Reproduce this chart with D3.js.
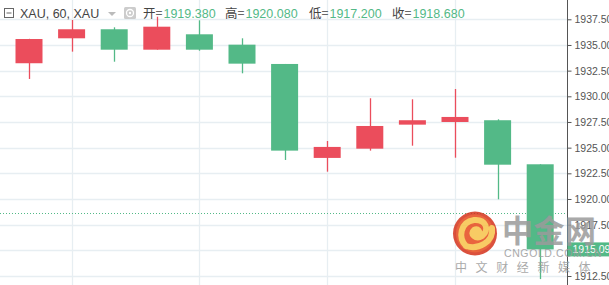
<!DOCTYPE html>
<html>
<head>
<meta charset="utf-8">
<script src="https://cdn.jsdelivr.net/npm/d3@7"></script>
<style>
  html, body { margin: 0; padding: 0; background: #fff; }
  svg { display: block; font-family: Arial, "Liberation Sans", sans-serif; }
  .tick text { fill: #555; font-size: 10.5px; }
</style>
</head>
<body>
<div id="chart"></div>
<script>
// ======= DATA =======
const opens  = [1933.22, 1935.65, 1936.53, 1934.54, 1936.04, 1935.03, 1933.15, 1924.00, 1924.90, 1927.24, 1927.50, 1927.67, 1923.38];
const highs  = [1935.60, 1937.43, 1936.72, 1937.75, 1937.40, 1935.65, 1933.15, 1925.65, 1929.81, 1929.71, 1930.71, 1927.76, 1923.38];
const lows   = [1931.69, 1934.35, 1933.37, 1934.54, 1934.44, 1932.24, 1923.80, 1922.66, 1924.71, 1925.19, 1924.02, 1919.97, 1912.20];
const closes = [1935.58, 1936.53, 1934.54, 1936.78, 1934.54, 1933.18, 1924.71, 1925.07, 1927.11, 1927.67, 1927.99, 1923.34, 1915.09];
const yTicks = [1912.5, 1915, 1917.5, 1920, 1922.5, 1925, 1927.5, 1930, 1932.5, 1935, 1937.5];
const gridCandles = [1, 4, 7, 10];
const lastPrice = 1915.09;
const refLine = 1918.68;
const header = [
  { k: "开=", v: "1919.380" },
  { k: "高=", v: "1920.080" },
  { k: "低=", v: "1917.200" },
  { k: "收=", v: "1918.680" }
];
const wmBig = ["中", "金", "网"];
const wmSmall = ["中", "文", "财", "经", "新", "媒", "体"];

// ======= SETUP =======
const width = 609, height = 285;
const axisX = 567.5;
const upColor = "#eb4d5c", downColor = "#53b987";

const svg = d3.select("#chart").append("svg")
  .attr("width", width).attr("height", height);

const x = d3.scaleLinear().domain([0, opens.length - 1]).range([29, 540.2]);
const y = d3.scaleLinear().domain([1912.5, 1937.5]).range([276, 19.3]);
const bodyW = 27;

// grid
svg.append("g").selectAll("line.h")
  .data(yTicks).join("line")
  .attr("x1", 0).attr("x2", axisX)
  .attr("y1", d => Math.round(y(d)) + 0.5).attr("y2", d => Math.round(y(d)) + 0.5)
  .attr("stroke", "#e7eef2").attr("stroke-width", 1.3);

svg.append("g").selectAll("line.v")
  .data(gridCandles).join("line")
  .attr("x1", d => Math.round(x(d)) + 0.5).attr("x2", d => Math.round(x(d)) + 0.5)
  .attr("y1", 0).attr("y2", height)
  .attr("stroke", "#e7eef2").attr("stroke-width", 1.3);

// candles
const idx = d3.range(opens.length);
const candles = svg.append("g").selectAll("g").data(idx).join("g");
candles.append("line")
  .attr("x1", i => Math.round(x(i)) + 0.5).attr("x2", i => Math.round(x(i)) + 0.5)
  .attr("y1", i => y(highs[i])).attr("y2", i => y(lows[i]))
  .attr("stroke", i => closes[i] >= opens[i] ? upColor : downColor)
  .attr("stroke-width", 1.3);
candles.append("rect")
  .attr("x", i => x(i) - bodyW / 2)
  .attr("width", bodyW)
  .attr("y", i => y(Math.max(opens[i], closes[i])))
  .attr("height", i => Math.max(2, Math.abs(y(opens[i]) - y(closes[i]))))
  .attr("fill", i => closes[i] >= opens[i] ? upColor : downColor);

// reference dotted line
svg.append("line")
  .attr("x1", 0).attr("x2", axisX)
  .attr("y1", Math.round(y(refLine)) + 0.5).attr("y2", Math.round(y(refLine)) + 0.5)
  .attr("stroke", downColor).attr("stroke-width", 1)
  .attr("stroke-dasharray", "1,2");

// axis
const axis = d3.axisRight(y).tickValues(yTicks).tickSize(4).tickPadding(3)
  .tickFormat(d3.format(".3f"));
const ax = svg.append("g").attr("transform", `translate(${axisX},0)`).call(axis);
ax.select(".domain").remove();
ax.selectAll(".tick line").attr("stroke", "#555");
svg.append("line").attr("x1", axisX).attr("x2", axisX).attr("y1", 0).attr("y2", height)
  .attr("stroke", "#555").attr("stroke-width", 1);

// last price label
const lp = svg.append("g").attr("transform", `translate(${axisX},${y(lastPrice)})`);
lp.append("rect").attr("x", 0).attr("y", -7).attr("width", 45).attr("height", 14).attr("fill", downColor);
lp.append("text").attr("x", 5).attr("y", 4).attr("fill", "#fff").attr("font-size", 10.5).text(d3.format(".3f")(lastPrice));

// watermark (drawn on top, as in the screenshot)
const wm = svg.append("g").attr("opacity", 0.85);
wm.append("circle").attr("cx", 475).attr("cy", 233.5).attr("r", 22).attr("fill", "#d5331c");
wm.append("circle").attr("cx", 475).attr("cy", 233.5).attr("r", 19).attr("fill", "#e64a1d");
wm.append("path")
  .attr("d", "M466,246 C458,238 460,222 474,220 C486,219 490,230 482,236 C476,240 469,234 474,230 C478,228 481,232 478,234 M466,246 C478,250 494,242 492,228")
  .attr("fill", "none").attr("stroke", "#f7c34a").attr("stroke-width", 6).attr("stroke-linecap", "round");
wm.append("g").selectAll("text").data(wmBig).join("text")
  .attr("x", (d, i) => 502 + i * 31.5).attr("y", 242)
  .attr("font-family", "Noto Sans CJK SC").attr("font-weight", "bold")
  .attr("font-size", 31).attr("fill", "#9b9b9b")
  .text(d => d);
wm.append("text").attr("x", 504).attr("y", 257)
  .attr("font-size", 10.5).attr("fill", "#9b9b9b").attr("letter-spacing", 0.6)
  .text("CNGOLD.COM.CN");
wm.append("g").selectAll("text").data(wmSmall).join("text")
  .attr("x", (d, i) => 455 + i * 20.6).attr("y", 272)
  .attr("font-family", "Noto Sans CJK SC")
  .attr("font-size", 12).attr("fill", "#9b9b9b")
  .text(d => d);

// header
const hd = svg.append("g").attr("font-size", 12.5);
hd.append("rect").attr("x", 4.5).attr("y", 8.5).attr("width", 9).attr("height", 9)
  .attr("fill", "none").attr("stroke", "#666");
hd.append("line").attr("x1", 6.5).attr("x2", 11.5).attr("y1", 13).attr("y2", 13).attr("stroke", "#666");
hd.append("text").attr("x", 20).attr("y", 18).attr("fill", "#444").text("XAU, 60, XAU");
hd.append("path").attr("d", "M108,12 L116,12 L112,16 Z").attr("fill", "#bbb");
hd.append("rect").attr("x", 124).attr("y", 7).attr("width", 12).attr("height", 12).attr("rx", 1.5).attr("fill", "#ccc");
hd.append("circle").attr("cx", 130).attr("cy", 13).attr("r", 3.5).attr("fill", "none").attr("stroke", "#fff").attr("stroke-width", 1.3);
hd.append("circle").attr("cx", 130).attr("cy", 13).attr("r", 1.2).attr("fill", "#fff");

const hx = [143, 225, 309, 392];
header.forEach((h, i) => {
  const t = hd.append("text").attr("x", hx[i]).attr("y", 18);
  t.append("tspan").attr("fill", "#444").attr("font-family", "Noto Sans CJK SC").text(h.k);
  t.append("tspan").attr("fill", downColor).attr("dx", 1).text(h.v);
});
</script>
</body>
</html>
